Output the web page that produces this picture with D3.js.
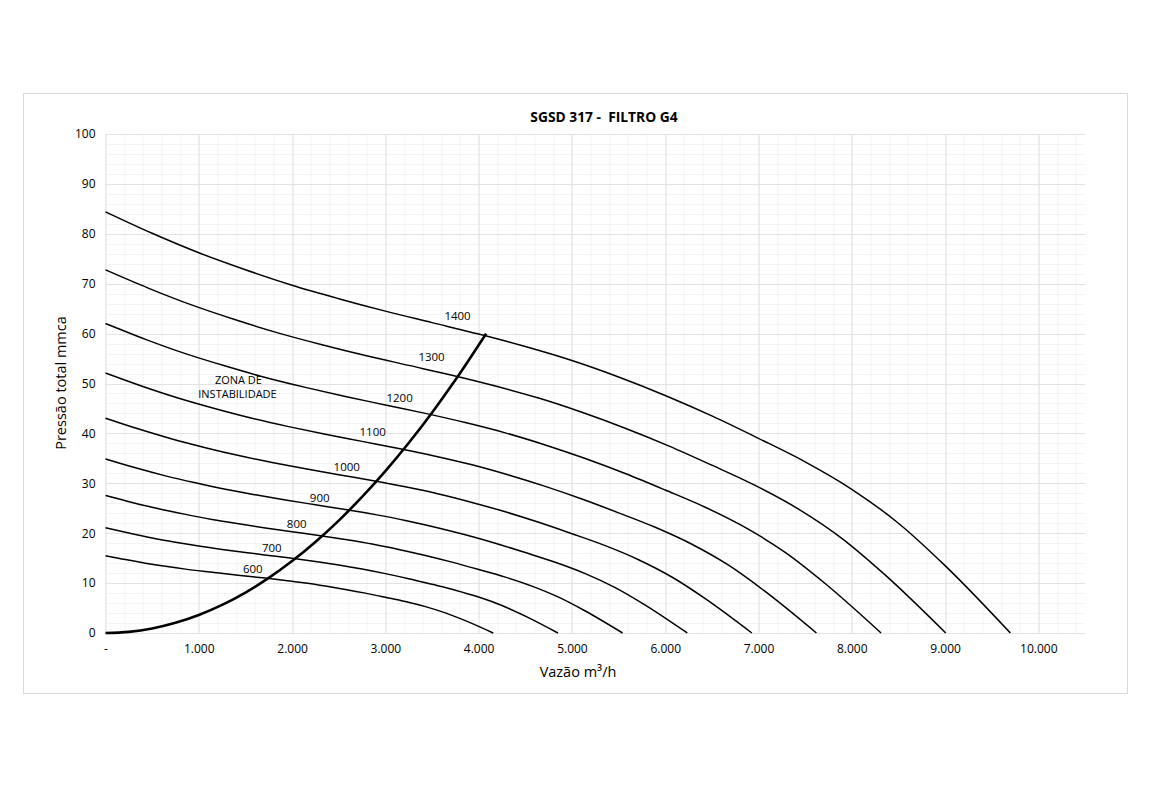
<!DOCTYPE html>
<html>
<head>
<meta charset="utf-8">
<script src="https://cdn.jsdelivr.net/npm/d3@7"></script>
<style>
  body { margin: 0; background: #fff; }
  text { font-family: "Open Sans", "Noto Sans", sans-serif; fill: #000; }
</style>
</head>
<body>
<script>
// rotation labels (rpm)
var rpms = [600, 700, 800, 900, 1000, 1100, 1200, 1300, 1400];

// flow (m3/h) per curve
var flow600  = [0, 214, 429, 643, 857, 1071, 1286, 1500, 1714, 1929, 2143, 2357, 2571, 2786, 3000, 3214, 3429, 3643, 3857, 4157];
var flow700  = [0, 250, 500, 750, 1000, 1250, 1500, 1750, 2000, 2250, 2500, 2750, 3000, 3250, 3500, 3750, 4000, 4250, 4500, 4850];
var flow800  = [0, 286, 571, 857, 1143, 1429, 1714, 2000, 2286, 2571, 2857, 3143, 3429, 3714, 4000, 4286, 4571, 4857, 5143, 5543];
var flow900  = [0, 321, 643, 964, 1286, 1607, 1929, 2250, 2571, 2893, 3214, 3536, 3857, 4179, 4500, 4821, 5143, 5464, 5786, 6236];
var flow1000 = [0, 357, 714, 1071, 1429, 1786, 2143, 2500, 2857, 3214, 3571, 3929, 4286, 4643, 5000, 5357, 5714, 6071, 6429, 6929];
var flow1100 = [0, 393, 786, 1179, 1571, 1964, 2357, 2750, 3143, 3536, 3929, 4321, 4714, 5107, 5500, 5893, 6286, 6679, 7071, 7621];
var flow1200 = [0, 429, 857, 1286, 1714, 2143, 2571, 3000, 3429, 3857, 4286, 4714, 5143, 5571, 6000, 6429, 6857, 7286, 7714, 8314];
var flow1300 = [0, 464, 929, 1393, 1857, 2321, 2786, 3250, 3714, 4179, 4643, 5107, 5571, 6036, 6500, 6964, 7429, 7893, 8357, 9007];
var flow1400 = [0, 500, 1000, 1500, 2000, 2500, 3000, 3500, 4000, 4500, 5000, 5500, 6000, 6500, 7000, 7500, 8000, 8500, 9000, 9700];

// total pressure (mmca) per curve
var pres600  = [15.5, 14.71, 14.0, 13.37, 12.8, 12.31, 11.85, 11.42, 11.0, 10.54, 10.03, 9.42, 8.74, 7.99, 7.16, 6.3, 5.29, 4.04, 2.48, 0];
var pres700  = [21.1, 20.03, 19.05, 18.2, 17.43, 16.75, 16.13, 15.55, 14.98, 14.35, 13.65, 12.83, 11.9, 10.88, 9.75, 8.58, 7.2, 5.5, 3.38, 0];
var pres800  = [27.56, 26.16, 24.88, 23.77, 22.76, 21.88, 21.06, 20.31, 19.56, 18.74, 17.83, 16.75, 15.54, 14.2, 12.73, 11.2, 9.4, 7.18, 4.41, 0];
var pres900  = [34.88, 33.1, 31.49, 30.09, 28.8, 27.69, 26.66, 25.7, 24.75, 23.72, 22.56, 21.2, 19.67, 17.98, 16.12, 14.17, 11.9, 9.09, 5.58, 0];
var pres1000 = [43.06, 40.87, 38.88, 37.14, 35.56, 34.18, 32.91, 31.73, 30.56, 29.29, 27.86, 26.17, 24.29, 22.19, 19.9, 17.5, 14.69, 11.22, 6.89, 0];
var pres1100 = [52.1, 49.45, 47.04, 44.94, 43.03, 41.36, 39.82, 38.4, 36.98, 35.44, 33.71, 31.67, 29.39, 26.85, 24.08, 21.18, 17.78, 13.58, 8.33, 0];
var pres1200 = [62.01, 58.85, 55.98, 53.49, 51.21, 49.22, 47.39, 45.7, 44.01, 42.17, 40.11, 37.69, 34.97, 31.96, 28.65, 25.2, 21.16, 16.16, 9.92, 0];
var pres1300 = [72.77, 69.07, 65.7, 62.77, 60.1, 57.77, 55.61, 53.63, 51.65, 49.49, 47.08, 44.23, 41.04, 37.51, 33.63, 29.58, 24.83, 18.97, 11.64, 0];
var pres1400 = [84.4, 80.1, 76.2, 72.8, 69.7, 67.0, 64.5, 62.2, 59.9, 57.4, 54.6, 51.3, 47.6, 43.5, 39.0, 34.3, 28.8, 22.0, 13.5, 0];

// instability limit
var instFlow = [0, 250, 500, 750, 1000, 1250, 1500, 1750, 2000, 2250, 2500, 2750, 3000, 3250, 3500, 3750, 4080];
var instPres = [0, 0.23, 0.9, 2.03, 3.6, 5.63, 8.11, 11.04, 14.42, 18.25, 22.53, 27.26, 32.44, 38.07, 44.15, 50.69, 60];

// where the rpm labels sit (flow, pressure)
var labelFlow = [1579, 1783, 2050, 2296, 2586, 2864, 3153, 3495, 3774];
var labelPres = [12.8, 17.0, 21.8, 27.1, 33.3, 40.3, 47.1, 55.3, 63.5];

var xTicks = [0, 1000, 2000, 3000, 4000, 5000, 6000, 7000, 8000, 9000, 10000];
var yTicks = [0, 10, 20, 30, 40, 50, 60, 70, 80, 90, 100];

var flows = [flow600, flow700, flow800, flow900, flow1000, flow1100, flow1200, flow1300, flow1400];
var press = [pres600, pres700, pres800, pres900, pres1000, pres1100, pres1200, pres1300, pres1400];

var svgWidth = 1150;
var svgHeight = 789;

var margin = { top: 134, right: 65, bottom: 156, left: 105.5 };
var width = svgWidth - margin.left - margin.right;
var height = svgHeight - margin.top - margin.bottom;

var svg = d3.select("body")
  .append("svg")
  .attr("width", svgWidth)
  .attr("height", svgHeight);

// outer chart frame
svg.append("rect")
  .attr("x", 23.5).attr("y", 93.5)
  .attr("width", 1104).attr("height", 600)
  .attr("fill", "#fff")
  .attr("stroke", "#d9d9d9");

var chartGroup = svg.append("g")
  .attr("transform", `translate(${margin.left}, ${margin.top})`);

var x = d3.scaleLinear().domain([0, 10500]).range([0, width]);
var y = d3.scaleLinear().domain([0, 100]).range([height, 0]);

// minor grid
chartGroup.append("g").selectAll("line")
  .data(d3.range(0, 10501, 200))
  .enter().append("line")
  .attr("x1", d => Math.round(x(d)) + 0.5).attr("x2", d => Math.round(x(d)) + 0.5)
  .attr("y1", 0).attr("y2", height)
  .attr("stroke", "#f3f3f3");
chartGroup.append("g").selectAll("line")
  .data(d3.range(0, 101, 2))
  .enter().append("line")
  .attr("x1", 0).attr("x2", width)
  .attr("y1", d => Math.round(y(d)) + 0.5).attr("y2", d => Math.round(y(d)) + 0.5)
  .attr("stroke", "#f3f3f3");

// major grid
chartGroup.append("g").selectAll("line")
  .data(xTicks)
  .enter().append("line")
  .attr("x1", d => Math.round(x(d)) + 0.5).attr("x2", d => Math.round(x(d)) + 0.5)
  .attr("y1", 0).attr("y2", height)
  .attr("stroke", "#e2e2e2");
chartGroup.append("g").selectAll("line")
  .data(yTicks)
  .enter().append("line")
  .attr("x1", 0).attr("x2", width)
  .attr("y1", d => Math.round(y(d)) + 0.5).attr("y2", d => Math.round(y(d)) + 0.5)
  .attr("stroke", "#e2e2e2");

// axes (labels only)
var fmt = d => d === 0 ? "-" : d3.format(",")(d).replace(/,/g, ".");
var xAxis = d3.axisBottom(x).tickValues(xTicks).tickFormat(fmt).tickSize(0).tickPadding(11);
var yAxis = d3.axisLeft(y).tickValues(yTicks).tickSize(0).tickPadding(10);

chartGroup.append("g")
  .attr("transform", `translate(0, ${height})`)
  .call(xAxis)
  .call(g => g.select(".domain").remove())
  .selectAll("text").style("font-size", "12px").style("font-family", "'Open Sans', sans-serif");

chartGroup.append("g")
  .call(yAxis)
  .call(g => g.select(".domain").remove())
  .selectAll("text").style("font-size", "12px").style("font-family", "'Open Sans', sans-serif");

// fan curves
var line = d3.line()
  .x(d => x(d[0]))
  .y(d => y(d[1]))
  .curve(d3.curveMonotoneX);

rpms.forEach(function(r, i) {
  var pts = flows[i].map((f, j) => [f, press[i][j]]);
  chartGroup.append("path")
    .datum(pts)
    .attr("fill", "none")
    .attr("stroke", "#000")
    .attr("stroke-width", 1.5)
    .attr("d", line);

  chartGroup.append("text")
    .attr("x", x(labelFlow[i]))
    .attr("y", y(labelPres[i]))
    .attr("dy", "0.35em")
    .attr("text-anchor", "middle")
    .style("font-size", "11.5px")
    .text(r);
});

// instability line
chartGroup.append("path")
  .datum(instFlow.map((f, j) => [f, instPres[j]]))
  .attr("fill", "none")
  .attr("stroke", "#000")
  .attr("stroke-width", 2.6)
  .attr("d", line);

chartGroup.append("text")
  .attr("x", x(1425)).attr("y", y(50))
  .attr("text-anchor", "middle")
  .style("font-size", "11px")
  .text("ZONA DE");
chartGroup.append("text")
  .attr("x", x(1415)).attr("y", y(47))
  .attr("text-anchor", "middle")
  .style("font-size", "11px")
  .text("INSTABILIDADE");

// title
svg.append("text")
  .attr("x", 604).attr("y", 122)
  .attr("text-anchor", "middle")
  .style("font-size", "13.8px")
  .style("font-weight", "bold")
  .style("white-space", "pre")
  .text("SGSD 317 -  FILTRO G4");

// axis titles
svg.append("text")
  .attr("x", 578).attr("y", 677)
  .attr("text-anchor", "middle")
  .style("font-size", "14.5px")
  .text("Vazão m³/h");

svg.append("text")
  .attr("transform", "translate(66, 383) rotate(-90)")
  .attr("text-anchor", "middle")
  .style("font-size", "14.5px")
  .text("Pressão total mmca");
</script>
</body>
</html>
